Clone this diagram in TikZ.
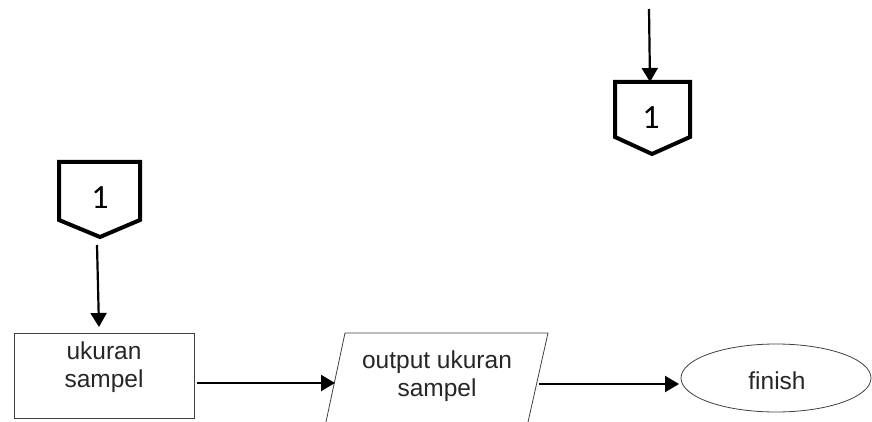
\documentclass[tikz,border=0pt]{standalone}
\usepackage{fontspec}
\setmainfont{Liberation Sans}
\newfontfamily\connfont{Carlito}
\usetikzlibrary{arrows.meta,calc,shapes.geometric}
\begin{document}
\begin{tikzpicture}[x=1pt,y=-1pt,
  flow/.style={line width=2.2pt,-{Triangle[length=14pt,width=16pt]}},
  thinbox/.style={draw=black!75,line width=0.8pt},
  label/.style={font=\fontsize{24.5}{28}\selectfont,text=black!85,align=center},
  conn/.style={line width=4pt,line join=miter,miter limit=10},
  connnum/.style={font=\connfont\fontsize{34}{34}\selectfont}]
\useasboundingbox (0,0) rectangle (872,422);
\clip (0,0) rectangle (872,422);

% off-page connector, top right
\draw[conn] (615,82) -- (690,82) -- (690,137) -- (652,154) -- (615,137) -- cycle;
\node[connnum] (c1) at (651,118) {1};
\coordinate (topin) at (649,9);
\coordinate (c1top) at (650,82);
\draw[flow] (topin) -- (c1top);

% off-page connector, left
\draw[conn] (59,162) -- (140,162) -- (140,220) -- (100,237) -- (59,220) -- cycle;
\node[connnum] (c2) at (100,198) {1};
\coordinate (c2out) at (97,245);
\coordinate (boxin) at (99,327);
\draw[flow] (c2out) -- (boxin);

% process box
\draw[thinbox] (14,333) rectangle (194,418);
\node[label] (proc) at (104,367) {ukuran\\sampel};

% output parallelogram (runs past the lower edge)
\draw[thinbox] (325,426.5) -- (345,333) -- (548,333) -- (527,426.5);
\node[label] (outp) at (437,376) {output ukuran\\sampel};

% terminator
\node[thinbox,ellipse,minimum width=190pt,minimum height=68pt,inner sep=0pt] (fin) at (776,378) {};
\node[label] (fintext) at (777,381) {finish};

% flow arrows
\coordinate (procout) at (197,383);
\coordinate (outpin) at (335,383);
\coordinate (outpout) at (539,384);
\coordinate (finin) at (679,384);
\draw[flow] (procout) -- (outpin);
\draw[flow] (outpout) -- (finin);
\end{tikzpicture}
\end{document}
